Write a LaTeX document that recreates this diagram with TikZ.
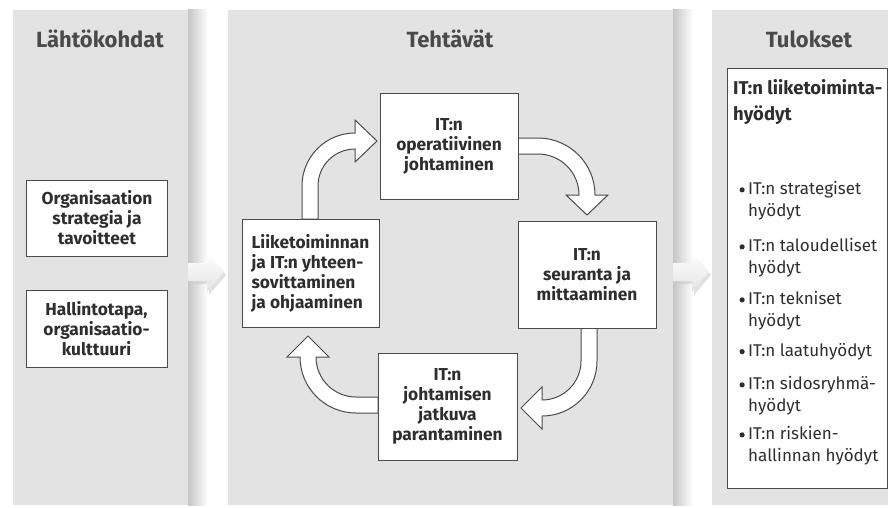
\documentclass[tikz,border=0pt]{standalone}
\usepackage{fontspec}
\setmainfont{Fira Sans}
\begin{document}
\definecolor{panel}{HTML}{E3E3E3}
\definecolor{ink}{HTML}{2E2E2E}
\definecolor{headink}{HTML}{4A4A4A}
\definecolor{frame}{HTML}{4A4A4A}
\newcommand{\listdot}{\tikz[baseline=0pt]\fill[ink] (0pt,4.6pt) circle[radius=2.6pt];\hspace{3.5pt}}
\begin{tikzpicture}[x=1pt,y=-1pt,
  panelbg/.style={fill=panel,draw=none},
  edgeshade/.style={left color=gray!45,right color=white,draw=none},
  heading/.style={font=\bfseries\fontsize{22}{26}\selectfont,text=headink,anchor=base,inner sep=0pt},
  taskbox/.style={draw=frame,line width=0.9pt,fill=white,text=ink,
    font=\bfseries\fontsize{17.3}{20}\selectfont,align=center,inner sep=0pt},
  flowarrow/.style={draw=frame,fill=white,line width=1pt,line join=miter},
  passarrow/.style={top color=white,bottom color=gray!22,draw=none},
  passshadow/.style={fill=gray!40,draw=none,opacity=0.6},
  listhead/.style={font=\bfseries\fontsize{18.5}{26}\selectfont,text=ink,align=left,anchor=north west,inner sep=0pt},
  listitem/.style={font=\fontsize{17}{22}\selectfont,text=ink,align=left,anchor=north west,inner sep=0pt}]
\useasboundingbox (0,0) rectangle (888,508);
\fill[white] (0,0) rectangle (888,508);

% three column panels with a soft shade on their right edges
\path[panelbg] (13,10) rectangle (188,505);
\path[panelbg] (228,10) rectangle (673,505);
\path[panelbg] (712,10) rectangle (888,505);
\path[edgeshade] (188,10) rectangle (208,505);
\path[edgeshade] (673,10) rectangle (693,505);

% block arrows leading from one column to the next
\path[passshadow] (190,266) -- (209,266) -- (209,255) -- (226,275) -- (209,295) -- (209,284) -- (190,284) -- cycle;
\path[passarrow] (188,263) -- (207,263) -- (207,252) -- (224,272) -- (207,292) -- (207,281) -- (188,281) -- cycle;
\path[passshadow] (675,266) -- (694,266) -- (694,255) -- (711,275) -- (694,295) -- (694,284) -- (675,284) -- cycle;
\path[passarrow] (673,263) -- (692,263) -- (692,252) -- (709,272) -- (692,292) -- (692,281) -- (673,281) -- cycle;

% column headings
\node[heading] (hstart) at (100,48) {Lähtökohdat};
\node[heading] (htask) at (450,48) {Tehtävät};
\node[heading] (hres) at (809,48) {Tulokset};

% starting points
\node[taskbox,minimum width=141pt,minimum height=76pt] (strat) at (97,218) {Organisaation\\strategia ja\\tavoitteet};
\node[taskbox,minimum width=141pt,minimum height=77pt] (gov) at (96.5,328.5) {Hallintotapa,\\organisaatio-\\kulttuuri};

% curved hollow arrows of the cycle
\draw[flowarrow] (302,219) -- (302,186) arc[start angle=180,end angle=270,radius=53]
  -- (355,120) -- (377,141) -- (355,162) -- (355,149)
  arc[start angle=270,end angle=180,radius=37] -- (318,219) -- cycle;
\draw[flowarrow] (518,138) -- (538,138) arc[start angle=270,end angle=360,radius=57]
  -- (608,195) -- (587,215) -- (566,195) -- (579,195)
  arc[start angle=360,end angle=270,radius=41] -- (518,154) -- cycle;
\draw[flowarrow] (597,328) -- (597,361) arc[start angle=0,end angle=90,radius=55]
  -- (542,429) -- (521,408) -- (542,387) -- (542,400)
  arc[start angle=90,end angle=0,radius=39] -- (581,328) -- cycle;
\draw[flowarrow] (378,413) -- (356,413) arc[start angle=90,end angle=180,radius=56]
  -- (287,357) -- (308,336) -- (329,357) -- (316,357)
  arc[start angle=180,end angle=90,radius=40] -- (378,397) -- cycle;

% the four tasks
\node[taskbox,minimum width=138pt,minimum height=106pt] (oper) at (449,146) {IT:n\\operatiivinen\\johtaminen};
\node[taskbox,minimum width=138pt,minimum height=107pt] (mon) at (587,274.5) {IT:n\\seuranta ja\\mittaaminen};
\node[taskbox,minimum width=139pt,minimum height=107pt] (impr) at (447.5,406.5) {IT:n\\johtamisen\\jatkuva\\parantaminen};
\node[taskbox,minimum width=137pt,minimum height=108pt,align=left] (align) at (310.5,273) {Liiketoiminnan\\ja IT:n yhteen-\\sovittaminen\\ja ohjaaminen};

% results
\node[draw=frame,line width=0.9pt,fill=white,minimum width=160pt,minimum height=420pt,inner sep=0pt] (resbox) at (807,278) {};
\node[listhead] (benefit) at (733,79) {IT:n liiketoiminta-\\hyödyt};
\node[listitem] (b1) at (748,181) {\llap{\listdot}IT:n strategiset\\hyödyt};
\node[listitem] (b2) at (748,238) {\llap{\listdot}IT:n taloudelliset\\hyödyt};
\node[listitem] (b3) at (748,291) {\llap{\listdot}IT:n tekniset\\hyödyt};
\node[listitem] (b4) at (748,343) {\llap{\listdot}IT:n laatuhyödyt};
\node[listitem] (b5) at (748,376) {\llap{\listdot}IT:n sidosryhmä-\\hyödyt};
\node[listitem] (b6) at (748,426) {\llap{\listdot}IT:n riskien-\\hallinnan hyödyt};
\end{tikzpicture}
\end{document}
